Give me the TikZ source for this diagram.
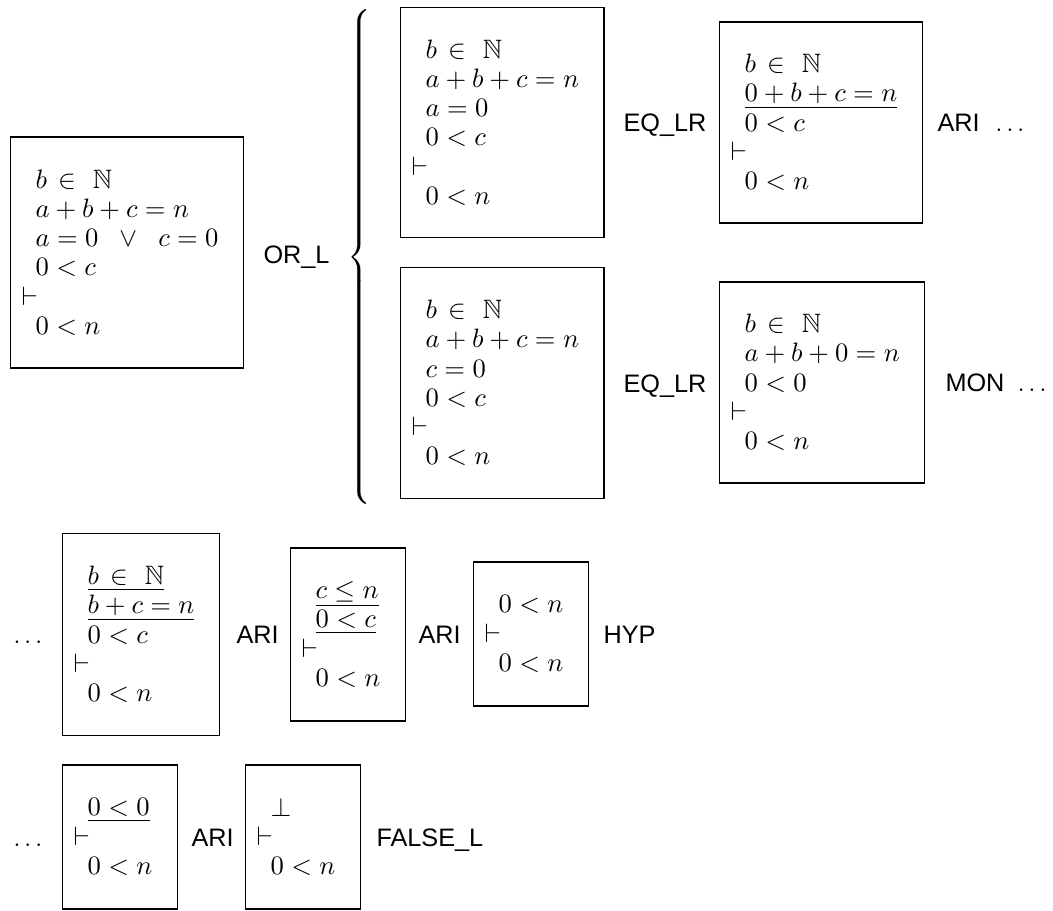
\documentclass[tikz,border=0pt]{standalone}
\usepackage{amssymb}
\usepackage{fontspec}
\newfontfamily\labfont{Liberation Sans}
\newcommand\pxl{0.376pt}
\newcommand\vd{\hspace*{-5.3pt}$\vdash$}
\newcommand\bN{b\hspace{1.4pt}\in\hspace{3.6pt}\mathbb{N}}
\tikzset{
  pbox/.style={draw, line width=0.45pt, inner xsep=9.4pt, inner ysep=0pt,
    align=left, anchor=west, font=\fontsize{10}{11}\selectfont},
  lab/.style={inner sep=0pt, anchor=west, text height=6.8pt, text depth=0pt,
    font={\fontsize{9.5}{11}\selectfont\labfont}},
}
\begin{document}
\begin{tikzpicture}[x=\pxl, y=-\pxl]
\useasboundingbox (0,0) rectangle (1053,911);

% row 1 / 2
\node[pbox, minimum height=231*\pxl] (b1) at (10,252.5)
  {$\bN$\\ $a+b+c=n$\\ $a=0\hspace{5.7pt}\vee\hspace{5.7pt}c=0$\\ $0<c$\\ \vd\\ $0<n$};
\node[lab] (l1) at (263,254) {OR\_L};

% brace
\node[inner sep=0pt, anchor=west] (br) at (347,257)
  {\delimiterfactor=1000 \delimitershortfall=0pt
   $\left\{\vrule width 0pt height 94pt depth 89pt\right.$};

\node[pbox, minimum height=230*\pxl] (b2) at (400,122.5)
  {$\bN$\\ $a+b+c=n$\\ $a=0$\\ $0<c$\\ \vd\\ $0<n$};
\node[lab] (l2) at (623,122.5) {EQ\_LR};
\node[pbox, minimum height=201*\pxl] (b3) at (719,122.5)
  {$\bN$\\ $\underline{0+b+c=n}$\\ $0<c$\\ \vd\\ $0<n$};
\node[lab] (l3) at (937,122.5) {ARI\hspace{6pt}\normalfont$\dots$};

\node[pbox, minimum height=231*\pxl] (b4) at (400,383)
  {$\bN$\\ $a+b+c=n$\\ $c=0$\\ $0<c$\\ \vd\\ $0<n$};
\node[lab] (l4) at (623,383) {EQ\_LR};
\node[pbox, minimum height=201*\pxl] (b5) at (719,382.5)
  {$\bN$\\ $a+b+0=n$\\ $0<0$\\ \vd\\ $0<n$};
\node[lab] (l5) at (945,382.5) {MON\hspace{5pt}\normalfont$\dots$};

% row 3
\node[lab] (d3) at (13,634.5) {\normalfont$\dots$};
\node[pbox, minimum height=202*\pxl] (b6) at (62,634.5)
  {$\underline{\bN}$\\ $\underline{b+c=n}$\\ $0<c$\\ \vd\\ $0<n$};
\node[lab] (l6) at (236,634.5) {ARI};
\node[pbox, minimum height=173*\pxl] (b7) at (290,634.5)
  {$\underline{c\leq n}$\\ $\underline{0<c}$\\ \vd\\ $0<n$};
\node[lab] (l7) at (418,634.5) {ARI};
\node[pbox, minimum height=144*\pxl] (b8) at (473,634)
  {$0<n$\\ \vd\\ $0<n$};
\node[lab] (l8) at (603,634) {HYP};

% row 4
\node[lab] (d4) at (13,837) {\normalfont$\dots$};
\node[pbox, minimum height=144*\pxl] (b9) at (62,837)
  {$\underline{0<0}$\\ \vd\\ $0<n$};
\node[lab] (l9) at (191,837) {ARI};
\node[pbox, minimum height=144*\pxl] (b10) at (245,837)
  {$\bot$\\ \vd\\ $0<n$};
\node[lab] (l10) at (376,837) {FALSE\_L};
\end{tikzpicture}
\end{document}
